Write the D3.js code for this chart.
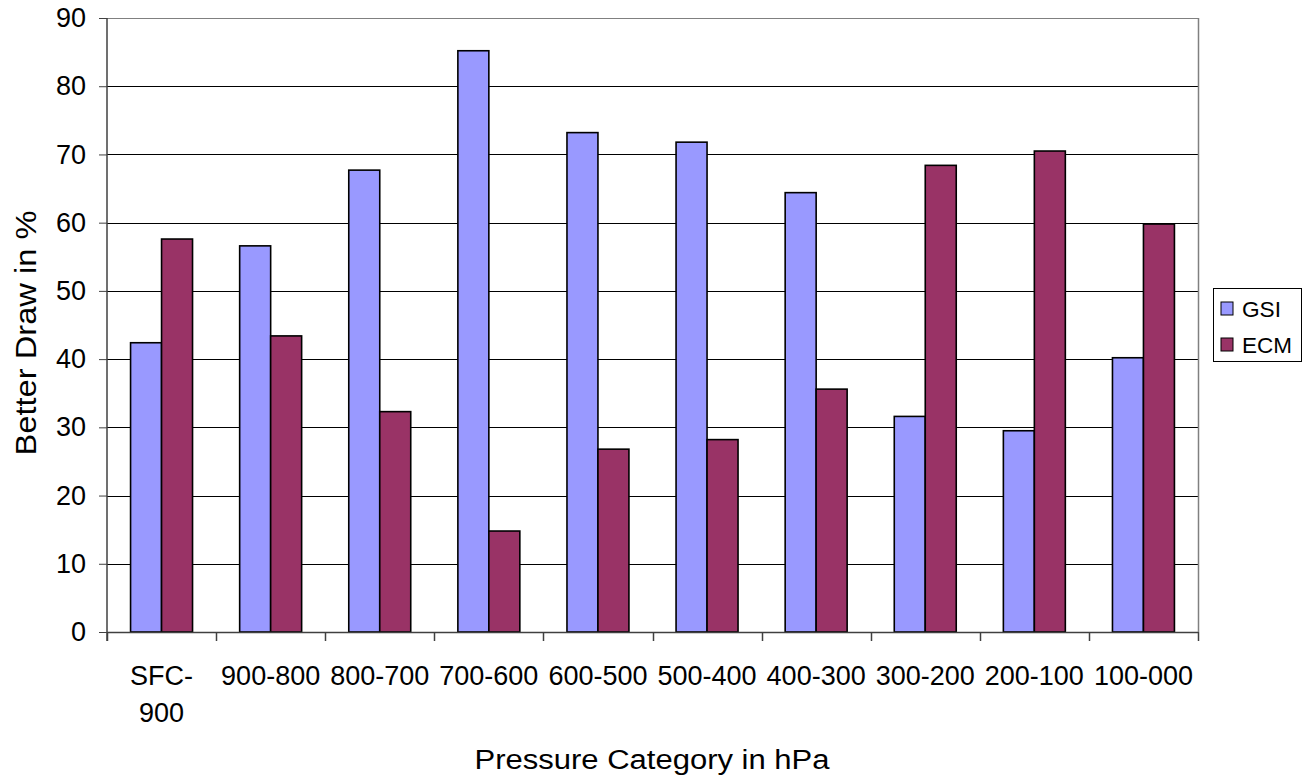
<!DOCTYPE html>
<html>
<head>
<meta charset="utf-8">
<script src="https://cdn.jsdelivr.net/npm/d3@7"></script>
<style>
  html, body { margin: 0; padding: 0; background: #fff; }
  svg { display: block; font-family: "Liberation Sans", Arial, sans-serif; }
</style>
</head>
<body>
<svg id="chart" width="1314" height="784"></svg>
<script>
// Pressure layers (label lines) and the share of better draws per system
const categories = ["SFC-900", "900-800", "800-700", "700-600", "600-500",
                    "500-400", "400-300", "300-200", "200-100", "100-000"];
const categoryLines = [["SFC-", "900"], ["900-800"], ["800-700"], ["700-600"], ["600-500"],
                       ["500-400"], ["400-300"], ["300-200"], ["200-100"], ["100-000"]];
const seriesNames = ["GSI", "ECM"];
const gsiValues = [42.4, 56.6, 67.7, 85.2, 73.2, 71.8, 64.4, 31.6, 29.5, 40.2];
const ecmValues = [57.6, 43.4, 32.3, 14.8, 26.8, 28.2, 35.6, 68.4, 70.5, 59.8];
const yTicks = [0, 10, 20, 30, 40, 50, 60, 70, 80, 90];
const seriesColors = ["#9999FF", "#993366"];

const svg = d3.select("#chart");
const plot = { left: 107, top: 18, right: 1198, bottom: 632 };

const y = d3.scaleLinear().domain([0, 90]).range([plot.bottom, plot.top]);
const x0 = d3.scaleBand().domain(categories)
  .range([plot.left, plot.right]).paddingInner(0.432).paddingOuter(0.216);
const x1 = d3.scaleBand().domain(seriesNames).range([0, x0.bandwidth()]);
const step = x0.step();

const rows = categories.map((c, i) => ({ category: c, values: [gsiValues[i], ecmValues[i]] }));

// horizontal gridlines
svg.append("g").selectAll("line")
  .data(yTicks.filter(d => d > 0))
  .join("line")
  .attr("x1", plot.left).attr("x2", plot.right)
  .attr("y1", d => Math.round(y(d)) + 0.5).attr("y2", d => Math.round(y(d)) + 0.5)
  .attr("stroke", d => d === 90 ? "#808080" : "#000")
  .attr("stroke-width", 1);

// right border of the plot area
svg.append("line")
  .attr("x1", plot.right + 0.5).attr("x2", plot.right + 0.5)
  .attr("y1", plot.top).attr("y2", plot.bottom)
  .attr("stroke", "#808080").attr("stroke-width", 1.5);

// bars
const groups = svg.append("g").selectAll("g")
  .data(rows)
  .join("g")
  .attr("transform", d => `translate(${x0(d.category)},0)`);

groups.selectAll("rect")
  .data(d => d.values.map((v, k) => ({ key: seriesNames[k], value: v, k })))
  .join("rect")
  .attr("x", d => x1(d.key))
  .attr("y", d => y(d.value))
  .attr("width", x1.bandwidth())
  .attr("height", d => y(0) - y(d.value))
  .attr("fill", d => seriesColors[d.k])
  .attr("stroke", "#000")
  .attr("stroke-width", 1.6);

// y axis
const yAxis = d3.axisLeft(y).tickValues(yTicks).tickSize(8).tickPadding(13).tickFormat(d3.format("d"));
const gy = svg.append("g").attr("transform", `translate(${plot.left},0)`).call(yAxis);
gy.select(".domain").attr("stroke", "#404040").attr("stroke-width", 1.5)
  .attr("d", `M0,${plot.top}V${plot.bottom + 9}`);
gy.selectAll(".tick line").attr("stroke", "#404040");
gy.selectAll(".tick text").attr("font-size", 27).attr("fill", "#000")
  .attr("font-family", "Liberation Sans, Arial, sans-serif");

// x axis line with boundary ticks
const xAxisG = svg.append("g");
xAxisG.append("line")
  .attr("x1", plot.left).attr("x2", plot.right)
  .attr("y1", plot.bottom + 0.5).attr("y2", plot.bottom + 0.5)
  .attr("stroke", "#404040").attr("stroke-width", 1.5);
xAxisG.selectAll("line.bound")
  .data(d3.range(categories.length + 1))
  .join("line")
  .attr("class", "bound")
  .attr("x1", i => Math.round(plot.left + i * step) + 0.5)
  .attr("x2", i => Math.round(plot.left + i * step) + 0.5)
  .attr("y1", plot.bottom).attr("y2", plot.bottom + 9)
  .attr("stroke", "#404040").attr("stroke-width", 1.5);

// category labels
const labels = xAxisG.selectAll("text.cat")
  .data(categories.map((c, i) => ({ c, lines: categoryLines[i] })))
  .join("text")
  .attr("class", "cat")
  .attr("text-anchor", "middle")
  .attr("font-size", 27)
  .attr("fill", "#000");
labels.selectAll("tspan")
  .data(d => d.lines.map(t => ({ t, c: d.c })))
  .join("tspan")
  .attr("x", d => x0(d.c) + x0.bandwidth() / 2)
  .attr("y", (d, j) => 685 + j * 37)
  .text(d => d.t);

// axis titles
svg.append("text")
  .attr("x", 652).attr("y", 769)
  .attr("text-anchor", "middle")
  .attr("font-size", 27)
  .attr("textLength", 355).attr("lengthAdjust", "spacingAndGlyphs")
  .text("Pressure Category in hPa");

svg.append("text")
  .attr("transform", "translate(36,333) rotate(-90)")
  .attr("text-anchor", "middle")
  .attr("font-size", 29)
  .attr("textLength", 245).attr("lengthAdjust", "spacingAndGlyphs")
  .text("Better Draw in %");

// legend
const legend = svg.append("g").attr("transform", "translate(1213,288)");
legend.append("rect")
  .attr("x", 0.5).attr("y", 0.5).attr("width", 88).attr("height", 73)
  .attr("fill", "#fff").attr("stroke", "#000").attr("stroke-width", 1);
const items = legend.selectAll("g.item")
  .data(seriesNames)
  .join("g")
  .attr("class", "item")
  .attr("transform", (d, i) => `translate(8,${14 + i * 36})`);
items.append("rect")
  .attr("width", 12).attr("height", 13)
  .attr("fill", (d, i) => seriesColors[i])
  .attr("stroke", "#000").attr("stroke-width", 1);
items.append("text")
  .attr("x", 21).attr("y", 14.5)
  .attr("font-size", 22)
  .attr("textLength", (d, i) => i === 0 ? 39 : 50)
  .attr("lengthAdjust", "spacingAndGlyphs")
  .text(d => d);
</script>
</body>
</html>
